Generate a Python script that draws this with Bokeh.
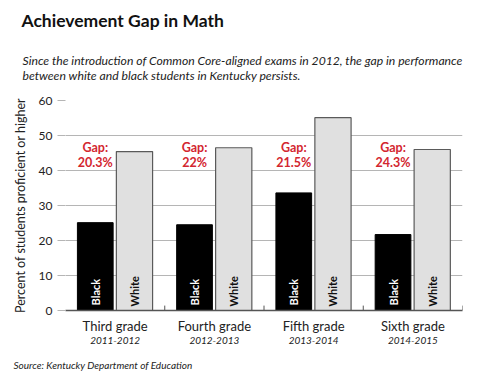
from math import pi
from bokeh.plotting import figure
from bokeh.models import ColumnDataSource, FactorRange, Range1d, CategoricalAxis, Title
from bokeh.transform import dodge
from bokeh.core.properties import value
from bokeh.embed import file_html
from bokeh.resources import INLINE

grades = ["Third grade", "Fourth grade", "Fifth grade", "Sixth grade"]
years = ["2011-2012", "2012-2013", "2013-2014", "2014-2015"]
black = [25.1, 24.5, 33.6, 21.7]
white = [45.4, 46.5, 55.1, 46.0]
gap_text = ["20.3%", "22%", "21.5%", "24.3%"]
y_ticks = [0, 10, 20, 30, 40, 50, 60]

TITLE = "Achievement Gap in Math"
SUBTITLE = ("Since the introduction of Common Core-aligned exams in 2012, the gap in performance\n"
            "between white and black students in Kentucky persists.")
SOURCE = "Source: Kentucky Department of Education"

FONT = "Lato"
RED = "#d3262f"
DARK = "#222222"
GRID = "#b5b5b5"

src = ColumnDataSource(dict(grade=grades, black=black, white=white,
                            gap=gap_text, gap_head=["Gap:"] * len(grades)))

p = figure(x_range=FactorRange(*grades), y_range=Range1d(0, 60),
           width=474, height=382, output_backend="svg", toolbar_location=None,
           min_border_left=65, min_border_right=12, min_border_top=100, min_border_bottom=72,
           title=Title(text=TITLE, text_font=FONT, text_font_style="bold",
                       text_font_size="17.5px", text_color="#111111", align="left",
                       offset=-44, standoff=4))
p.extra_x_ranges = {"years": FactorRange(*years)}

p.add_layout(Title(text=SUBTITLE, text_font=FONT, text_font_style="italic",
                   text_font_size="12.2px", text_color=DARK, align="left",
                   offset=-43, standoff=36), "above")

p.outline_line_color = None
p.background_fill_color = "white"
p.border_fill_color = "white"
p.xgrid.grid_line_color = None
p.ygrid.grid_line_color = GRID
p.ygrid.ticker = y_ticks

# bars
p.vbar(x=dodge("grade", -0.2, range=p.x_range), top="black", bottom=0, width=0.36,
       source=src, fill_color="black", line_color="black")
p.vbar(x=dodge("grade", 0.195, range=p.x_range), top="white", bottom=0, width=0.365,
       source=src, fill_color="#e0e0e0", line_color="#5a5a5a", line_width=1.2)

# bar labels
p.text(x=dodge("grade", -0.2, range=p.x_range), y=0, text=value("Black"), source=src,
       angle=pi / 2, text_align="left", text_baseline="middle", y_offset=-5,
       text_font=value(FONT), text_font_style="bold", text_font_size="11px", text_color="white")
p.text(x=dodge("grade", 0.195, range=p.x_range), y=0, text=value("White"), source=src,
       angle=pi / 2, text_align="left", text_baseline="middle", y_offset=-4,
       text_font=value(FONT), text_font_style="bold", text_font_size="11px", text_color="#111111")

# gap labels
GAP_Y1 = 46.6
GAP_Y2 = 42.3
for ycoord, col in ((GAP_Y1, "gap_head"), (GAP_Y2, "gap")):
    p.text(x=dodge("grade", -0.2, range=p.x_range), y=ycoord, text=col, source=src,
           text_align="center", text_baseline="middle",
           text_font=value(FONT), text_font_style="bold", text_font_size="12.5px", text_color=RED)

# group boundary ticks
p.segment(x0=dodge("grade", 0.5, range=p.x_range), y0=0,
          x1=dodge("grade", 0.5, range=p.x_range), y1=1.4,
          source=src, line_color="#555555", line_width=1)

# y axis
p.yaxis.ticker = y_ticks
p.yaxis.axis_line_color = None
p.yaxis.major_tick_line_color = GRID
p.yaxis.major_tick_out = 8
p.yaxis.major_tick_in = 0
p.yaxis.minor_tick_line_color = None
p.yaxis.major_label_standoff = 5
p.yaxis.major_label_text_font = FONT
p.yaxis.major_label_text_font_size = "12px"
p.yaxis.major_label_text_color = DARK
p.yaxis.axis_label = "Percent of students proficient or higher"
p.yaxis.axis_label_text_font = FONT
p.yaxis.axis_label_text_font_style = "normal"
p.yaxis.axis_label_text_font_size = "12.5px"
p.yaxis.axis_label_text_color = DARK
p.yaxis.axis_label_standoff = 8

# x axis: grade names
p.xaxis.axis_line_color = "#555555"
p.xaxis.axis_line_width = 1.5
p.xaxis.major_tick_line_color = None
p.xaxis.major_tick_out = 0
p.xaxis.major_tick_in = 0
p.xaxis.minor_tick_line_color = None
p.xaxis.major_label_standoff = 7
p.xaxis.major_label_text_font = FONT
p.xaxis.major_label_text_font_size = "13px"
p.xaxis.major_label_text_color = DARK

# x axis: school years
ax2 = CategoricalAxis(x_range_name="years",
                      axis_line_color=None, major_tick_line_color=None,
                      major_tick_out=0, major_tick_in=0,
                      minor_tick_line_color=None, major_label_standoff=0,
                      major_label_text_font=FONT, major_label_text_font_style="italic",
                      major_label_text_font_size="10px", major_label_text_color=DARK)
p.add_layout(ax2, "below")

p.add_layout(Title(text=SOURCE, text_font=FONT, text_font_style="italic",
                   text_font_size="10px", text_color=DARK, align="left",
                   offset=-52, standoff=21), "below")

open("out.html", "w").write(file_html(p, INLINE))
